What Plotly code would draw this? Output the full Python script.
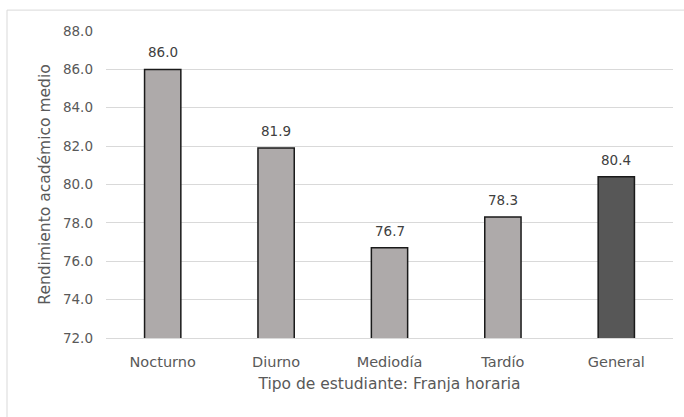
import plotly.graph_objects as go

categories = ["Nocturno", "Diurno", "Mediodía", "Tardío", "General"]
values = [86.0, 81.9, 76.7, 78.3, 80.4]
bar_colors = ["#AEAAAA", "#AEAAAA", "#AEAAAA", "#AEAAAA", "#575757"]
y_ticks = [72, 74, 76, 78, 80, 82, 84, 86, 88]

FONT = "DejaVu Sans"
fig = go.Figure()
fig.add_trace(go.Bar(
    x=categories, y=values, width=0.32,
    marker=dict(color=bar_colors, line=dict(color="#1a1a1a", width=1.5)),
    hoverinfo="skip",
))

for c, v in zip(categories, values):
    fig.add_annotation(x=c, y=v, text=f"{v:.1f}", showarrow=False,
                       yanchor="middle", yshift=17,
                       font=dict(family=FONT, size=13.5, color="#404040"))

fig.update_layout(
    width=684, height=417,
    margin=dict(l=106, r=11, t=31, b=79),
    paper_bgcolor="white", plot_bgcolor="white",
    showlegend=False,
    font=dict(family=FONT, size=13.5, color="#595959"),
)
fig.update_yaxes(
    range=[72, 88], tickvals=y_ticks, tickformat=".1f",
    showgrid=True, gridcolor="#D9D9D9", gridwidth=1,
    zeroline=False, showline=False, ticks="",
    ticklabelstandoff=12,
    tickfont=dict(family=FONT, size=13.5, color="#595959"),
    title=dict(text="Rendimiento académico medio", standoff=8,
               font=dict(family=FONT, size=15.5, color="#595959")),
)
fig.update_xaxes(
    showline=True, linecolor="#D9D9D9", linewidth=1, ticks="",
    ticklabelstandoff=11,
    tickfont=dict(family=FONT, size=14.5, color="#595959"),
    title=dict(text="Tipo de estudiante: Franja horaria", standoff=8,
               font=dict(family=FONT, size=15.5, color="#595959")),
)

# chart area border (left and top edges visible in the reference)
fig.add_shape(type="rect", xref="paper", yref="paper",
              x0=-0.1746, x1=1.05, y0=-0.3, y1=1.068,
              line=dict(color="#D9D9D9", width=1), fillcolor="rgba(0,0,0,0)",
              layer="below")

fig.write_html("out.html")
